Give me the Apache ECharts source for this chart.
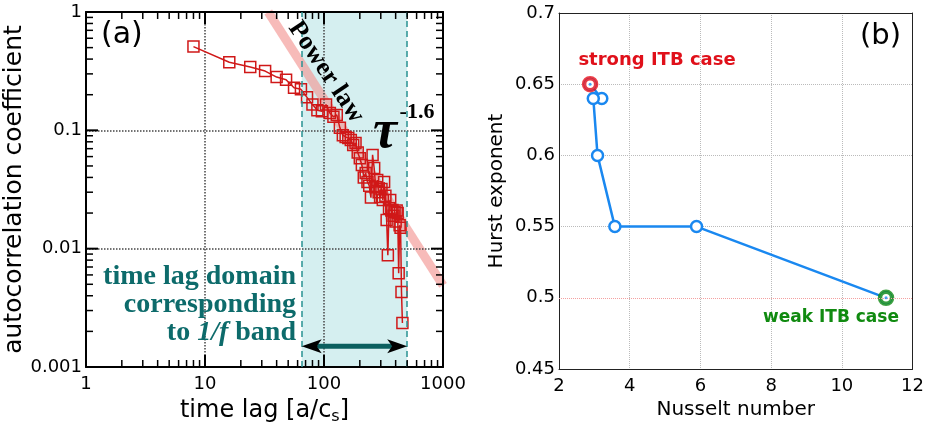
<!DOCTYPE html>
<html>
<head>
<meta charset="utf-8">
<script src="https://cdn.jsdelivr.net/npm/echarts@6/dist/echarts.min.js"></script>
<style>
  html, body { margin: 0; padding: 0; background: #fff; }
  #main { width: 927px; height: 431px; }
</style>
</head>
<body>
<div id="main"></div>
<script>
// (a) autocorrelation vs time lag
var lagX = [8, 16, 24, 32, 40, 48, 56, 64, 72, 80, 88, 96, 104, 112, 120, 128, 136, 144, 152, 160,
  168, 176, 184, 192, 200, 208, 216, 224, 232, 240, 248, 256, 264, 272, 280, 288, 296, 304, 312, 320,
  328, 336, 344, 352, 360, 368, 376, 384, 392, 400, 408, 416, 424, 432, 440, 448, 456];
var acfY = [0.51, 0.376, 0.343, 0.317, 0.282, 0.268, 0.229, 0.222, 0.19, 0.165, 0.148, 0.145, 0.165, 0.14, 0.13, 0.135, 0.105, 0.091, 0.088, 0.086,
  0.083, 0.075, 0.078, 0.065, 0.058, 0.051, 0.040, 0.0435, 0.0366, 0.034, 0.027, 0.062, 0.048, 0.033, 0.038, 0.030, 0.0273, 0.032, 0.0258, 0.0366,
  0.028, 0.0175, 0.0088, 0.022, 0.0258, 0.021, 0.0212, 0.019, 0.0204, 0.017, 0.021, 0.020, 0.0062, 0.0158, 0.015, 0.0043, 0.00235];
var powerLaw = [[34, 1], [1000, 0.0049]];   // tau^-1.6 guide
var bandX = [65, 500];                        // 1/f band
var arrowY = 0.0015;
var arrowBar = [88, 390];
var majorX = [10, 100];
var majorY = [0.01, 0.1];
var minorX = [2, 3, 4, 5, 6, 7, 8, 9, 20, 30, 40, 50, 60, 70, 80, 90, 200, 300, 400, 500, 600, 700, 800, 900];
var minorY = [0.002, 0.003, 0.004, 0.005, 0.006, 0.007, 0.008, 0.009, 0.02, 0.03, 0.04, 0.05, 0.06, 0.07, 0.08, 0.09,
  0.2, 0.3, 0.4, 0.5, 0.6, 0.7, 0.8, 0.9];

// (b) Hurst exponent vs Nusselt number
var nusselt = [2.88, 3.21, 2.97, 3.09, 3.58, 5.89, 11.25];
var hurst = [0.65, 0.64, 0.64, 0.60, 0.55, 0.55, 0.50];
var strongIdx = 0, weakIdx = 6;

var FONT = "DejaVu Sans";
var SERIF = "Liberation Serif";

function logLabel(v) { return String(+(+v).toPrecision(3)); }

var chart = echarts.init(document.getElementById("main"));

function logAxis(extra) {
  var base = {
    type: "log", logBase: 10, gridIndex: 0, z: 3,
    axisLine: { show: true, onZero: false, lineStyle: { color: "#000", width: 2 } },
    axisTick: { show: false },
    splitLine: { show: false }
  };
  for (var k in extra) base[k] = extra[k];
  return base;
}

var labels = [
  { type: "text", left: 101, top: 20, style: { text: "(a)", font: "30px 'DejaVu Sans'", fill: "#000" } },
  { type: "text", left: 860, top: 22, style: { text: "(b)", font: "29px 'DejaVu Sans'", fill: "#000" } },
  {
    type: "text", x: 326, y: 72, rotation: -0.98, z: 10,
    style: { text: "Power law", font: "bold 26px 'Liberation Serif'", fill: "#000", align: "center", verticalAlign: "middle" }
  },
  {
    type: "text", x: 385, y: 133, z: 10,
    style: { text: "\u03c4", font: "italic bold 54px 'Liberation Serif'", fill: "#000", align: "center", verticalAlign: "middle" }
  },
  {
    type: "text", x: 417, y: 112, z: 10,
    style: { text: "-1.6", font: "bold 22px 'Liberation Serif'", fill: "#000", align: "center", verticalAlign: "middle" }
  },
  {
    type: "text", x: 296, y: 263, z: 10,
    style: {
      text: "time lag domain\ncorresponding\nto {i|1/f} band",
      align: "right", verticalAlign: "top", lineHeight: 28,
      font: "bold 28px 'Liberation Serif'", fill: "#0d6b6b",
      rich: { i: { fontStyle: "italic", fontWeight: "bold", fontSize: 28, fontFamily: SERIF, fill: "#0d6b6b", lineHeight: 28 } }
    }
  },
  {
    type: "text", x: 657, y: 60, z: 10,
    style: { text: "strong ITB case", font: "bold 18px 'DejaVu Sans'", fill: "#e0101a", align: "center", verticalAlign: "middle" }
  },
  {
    type: "text", x: 831, y: 318, z: 10,
    style: { text: "weak ITB case", font: "bold 17px 'DejaVu Sans'", fill: "#108a10", align: "center", verticalAlign: "middle" }
  }
];

var option = {
  animation: false,
  textStyle: { fontFamily: FONT },
  grid: [
    { left: 86, right: 484, top: 12, bottom: 64 },
    { left: 559, right: 12, top: 13, bottom: 62 }
  ],
  xAxis: [
    logAxis({
      position: "bottom", min: 1, max: 1000,
      name: "time lag [a/c{s|s}]", nameLocation: "middle", nameGap: 30,
      nameTextStyle: { fontSize: 24, color: "#000", rich: { s: { fontSize: 16, padding: [12, 0, 0, 0] } } },
      axisLabel: { fontSize: 18, color: "#000", margin: 8, formatter: logLabel },
      splitLine: { show: true, lineStyle: { type: "dotted", color: "#444", width: 1.5 } }
    }),
    logAxis({ position: "top", min: 1, max: 1000, axisLabel: { show: false } }),
    {
      type: "value", gridIndex: 1, position: "bottom", min: 2, max: 12, interval: 2,
      name: "Nusselt number", nameLocation: "middle", nameGap: 26,
      nameTextStyle: { fontSize: 20, color: "#000" },
      axisLine: { show: true, onZero: false, lineStyle: { color: "#222", width: 1 } },
      axisTick: { show: false },
      axisLabel: { fontSize: 18, color: "#000", margin: 8 },
      splitLine: { show: true, lineStyle: { type: "dotted", color: "#bbb", width: 1 } }
    },
    {
      type: "value", gridIndex: 1, position: "top", min: 2, max: 12, interval: 2,
      axisLine: { show: true, onZero: false, lineStyle: { color: "#222", width: 1 } },
      axisTick: { show: false }, axisLabel: { show: false }, splitLine: { show: false }
    }
  ],
  yAxis: [
    logAxis({
      position: "left", min: 0.001, max: 1,
      name: "autocorrelation coefficient", nameLocation: "middle", nameGap: 49,
      nameTextStyle: { fontSize: 25, color: "#000" },
      axisLabel: { fontSize: 18, color: "#000", margin: 4, formatter: logLabel },
      splitLine: { show: true, lineStyle: { type: "dotted", color: "#444", width: 1.5 } }
    }),
    logAxis({ position: "right", min: 0.001, max: 1, axisLabel: { show: false } }),
    {
      type: "value", gridIndex: 1, position: "left", min: 0.45, max: 0.7, interval: 0.05,
      name: "Hurst exponent", nameLocation: "middle", nameGap: 52,
      nameTextStyle: { fontSize: 20, color: "#000" },
      axisLine: { show: true, onZero: false, lineStyle: { color: "#222", width: 1 } },
      axisTick: { show: false },
      axisLabel: { fontSize: 18, color: "#000", margin: 4 },
      splitLine: { show: true, lineStyle: { type: "dotted", color: "#bbb", width: 1 } }
    },
    {
      type: "value", gridIndex: 1, position: "right", min: 0.45, max: 0.7, interval: 0.05,
      axisLine: { show: true, onZero: false, lineStyle: { color: "#222", width: 1 } },
      axisTick: { show: false }, axisLabel: { show: false }, splitLine: { show: false }
    }
  ],
  series: [
    // shaded band and its dashed edges
    {
      type: "line", xAxisIndex: 0, yAxisIndex: 0, data: [], z: 1, silent: true,
      markArea: {
        silent: true,
        itemStyle: { color: "#d5eff0" },
        data: [[{ xAxis: bandX[0] }, { xAxis: bandX[1] }]]
      },
      markLine: {
        silent: true, symbol: "none", label: { show: false },
        lineStyle: { color: "#2a9393", type: [6, 4], width: 1.5 },
        data: [{ xAxis: bandX[0] }, { xAxis: bandX[1] }]
      }
    },
    {
      name: "power law", type: "line", xAxisIndex: 0, yAxisIndex: 0, z: 2,
      data: powerLaw, symbol: "none", silent: true,
      lineStyle: { color: "rgba(243,150,148,0.65)", width: 9, cap: "butt" }
    },
    {
      name: "autocorrelation", type: "line", xAxisIndex: 0, yAxisIndex: 0, z: 4,
      data: lagX.map(function (x, i) { return [x, acfY[i]]; }),
      symbol: "rect", symbolSize: 11,
      lineStyle: { color: "#d01818", width: 1.5 },
      itemStyle: { color: "rgba(0,0,0,0)", borderColor: "#d01818", borderWidth: 1.5 }
    },
    // (b)
    {
      name: "Hurst", type: "line", xAxisIndex: 2, yAxisIndex: 2, z: 3,
      data: nusselt.map(function (x, i) { return [x, hurst[i]]; }),
      symbol: "circle", symbolSize: 11,
      lineStyle: { color: "#1a88f0", width: 2.5 },
      itemStyle: { color: "#fff", borderColor: "#1a88f0", borderWidth: 2.5 },
      markLine: {
        silent: true, symbol: "none", label: { show: false },
        lineStyle: { color: "#f4a0a0", type: "dotted", width: 1 },
        data: [{ yAxis: 0.5 }]
      }
    },
    {
      type: "scatter", xAxisIndex: 2, yAxisIndex: 2, z: 4, silent: true,
      symbol: "circle", symbolSize: 12,
      data: [
        { value: [nusselt[strongIdx], hurst[strongIdx]], itemStyle: { color: "#fff", borderColor: "#e8101a", borderWidth: 4.5 } },
        { value: [nusselt[weakIdx], hurst[weakIdx]], itemStyle: { color: "#fff", borderColor: "#0f8a12", borderWidth: 4.5 } }
      ]
    },
    {
      type: "scatter", xAxisIndex: 2, yAxisIndex: 2, z: 5, silent: true,
      symbol: "circle", symbolSize: 3, itemStyle: { color: "#1a88f0" },
      data: [[nusselt[strongIdx], hurst[strongIdx]], [nusselt[weakIdx], hurst[weakIdx]]]
    }
  ],
  graphic: labels
};

chart.setOption(option);

// ticks on all four sides of (a) and the double arrow, placed through the axes
var xa = { xAxisIndex: 0 }, ya = { yAxisIndex: 0 };
function px(v) { return chart.convertToPixel(xa, v); }
function py(v) { return chart.convertToPixel(ya, v); }
var L = px(1), R = px(1000), T = py(1), B = py(0.001);
var extra = [];
function seg(x1, y1, x2, y2, w, c) {
  extra.push({ type: "line", z: 50, silent: true, shape: { x1: x1, y1: y1, x2: x2, y2: y2 }, style: { stroke: c || "#000", lineWidth: w } });
}
majorX.forEach(function (v) { var x = px(v); seg(x, B, x, B - 12, 2); seg(x, T, x, T + 12, 2); });
minorX.forEach(function (v) { var x = px(v); seg(x, B, x, B - 7, 1.5); seg(x, T, x, T + 7, 1.5); });
majorY.forEach(function (v) { var y = py(v); seg(L, y, L + 12, y, 2); seg(R, y, R - 12, y, 2); });
minorY.forEach(function (v) { var y = py(v); seg(L, y, L + 7, y, 1.5); seg(R, y, R - 7, y, 1.5); });

var ay = py(arrowY), ax0 = px(bandX[0]), ax1 = px(bandX[1]);
seg(ax0 + 4, ay, ax1 - 4, ay, 2, "#000");
seg(px(arrowBar[0]), ay, px(arrowBar[1]), ay, 5, "#0b5f5f");
extra.push({ type: "polygon", z: 51, silent: true, shape: { points: [[ax0, ay], [ax0 + 20, ay - 7], [ax0 + 15, ay], [ax0 + 20, ay + 7]] }, style: { fill: "#000" } });
extra.push({ type: "polygon", z: 51, silent: true, shape: { points: [[ax1, ay], [ax1 - 20, ay - 7], [ax1 - 15, ay], [ax1 - 20, ay + 7]] }, style: { fill: "#000" } });

chart.setOption({ graphic: labels.concat(extra) });
window.addEventListener("resize", function () { chart.resize(); });
</script>
</body>
</html>
